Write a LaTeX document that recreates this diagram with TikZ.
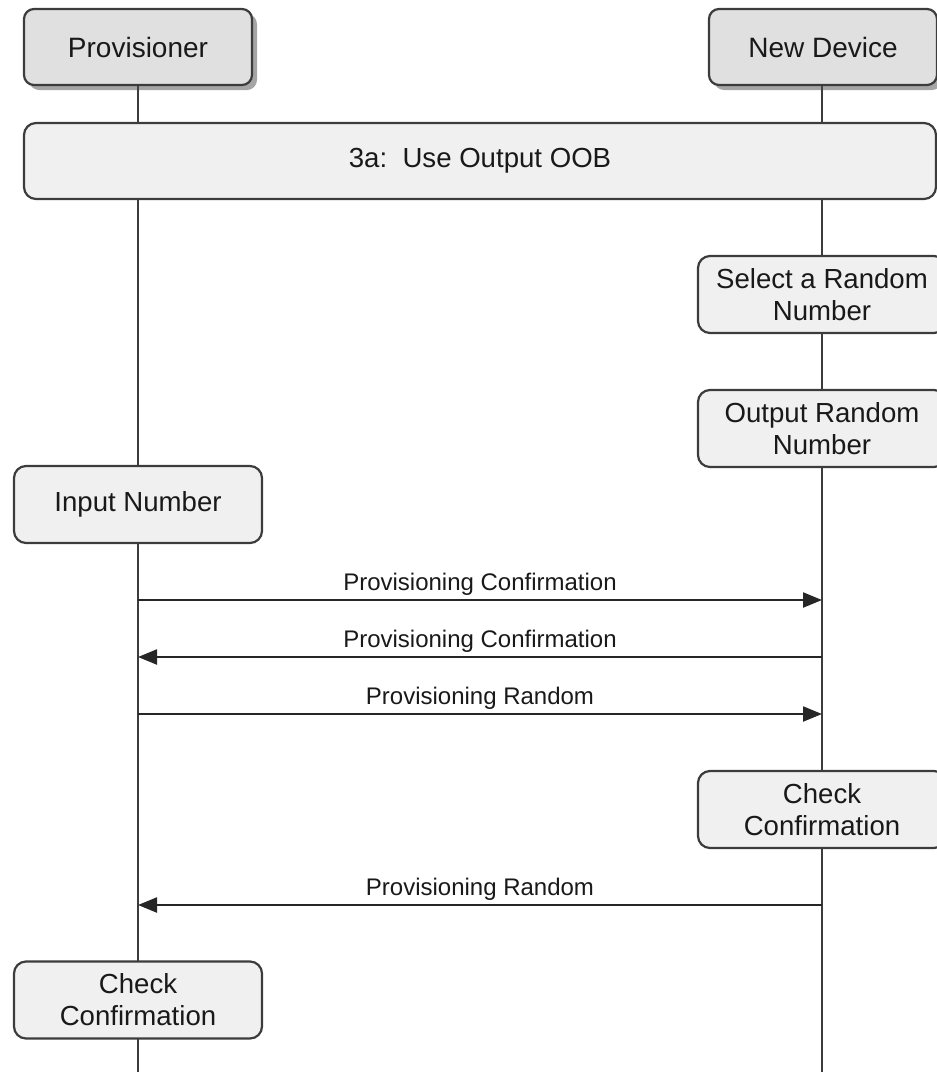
\documentclass[tikz,border=0pt]{standalone}
\usepackage{fontspec}
\setmainfont{Liberation Sans}
\usetikzlibrary{arrows.meta,shadows,backgrounds}

\definecolor{lineclr}{HTML}{3C3C3C}
\definecolor{headfill}{HTML}{E0E0E0}
\definecolor{boxfill}{HTML}{F0F0F0}

\tikzset{
  head/.style={draw=lineclr, line width=1.1pt, fill=headfill, rounded corners=5pt,
    minimum width=114pt, minimum height=38pt, text=black!90,
    font=\fontsize{14}{16}\selectfont,
    drop shadow={shadow xshift=2.5pt, shadow yshift=-2.5pt, fill=black!70}},
  act/.style={draw=lineclr, line width=1.1pt, fill=boxfill, rounded corners=6pt,
    minimum width=124pt, minimum height=38.5pt, align=center, text=black!90,
    font=\fontsize{13.8}{16}\selectfont},
  life/.style={draw=lineclr, line width=1.1pt},
  msg/.style={draw=black!85, line width=1.1pt, -{Triangle[length=9.5pt,width=7.5pt]}},
  lbl/.style={midway, above=1.5pt, inner sep=0pt, text=black!90,
    font=\fontsize{12}{14}\selectfont}
}

\begin{document}
\begin{tikzpicture}[x=0.5pt, y=-0.5pt]
  \clip (0,0) rectangle (937,1072);

  % participants
  \node[head] (prov) at (138,47) {Provisioner};
  \node[head] (dev) at (823,47) {New Device};

  % steps
  \node[act, minimum width=456pt, minimum height=38pt] (oob) at (480,161) {3a:\ \ Use Output OOB};
  \node[act] (select) at (822,294.5) {Select a Random\\Number};
  \node[act] (output) at (822,428.5) {Output Random\\Number};
  \node[act] (input) at (138,504.5) {Input Number};
  \node[act] (devcheck) at (822,809.5) {Check\\Confirmation};
  \node[act] (provcheck) at (138,1000) {Check\\Confirmation};

  % lifeline ends
  \coordinate (provend) at (138,1072);
  \coordinate (devend) at (822,1072);
  \begin{scope}[on background layer]
    \draw[life] (prov.south) -- (provend);
    \draw[life] (dev.south -| devend) -- (devend);
  \end{scope}

  % messages
  \coordinate (p1) at (138,600); \coordinate (d1) at (822,600);
  \coordinate (p2) at (138,657); \coordinate (d2) at (822,657);
  \coordinate (p3) at (138,714); \coordinate (d3) at (822,714);
  \coordinate (p4) at (138,905); \coordinate (d4) at (822,905);

  \draw[msg] (p1) -- (d1) node[lbl] {Provisioning Confirmation};
  \draw[msg] (d2) -- (p2) node[lbl] {Provisioning Confirmation};
  \draw[msg] (p3) -- (d3) node[lbl] {Provisioning Random};
  \draw[msg] (d4) -- (p4) node[lbl] {Provisioning Random};
\end{tikzpicture}
\end{document}
